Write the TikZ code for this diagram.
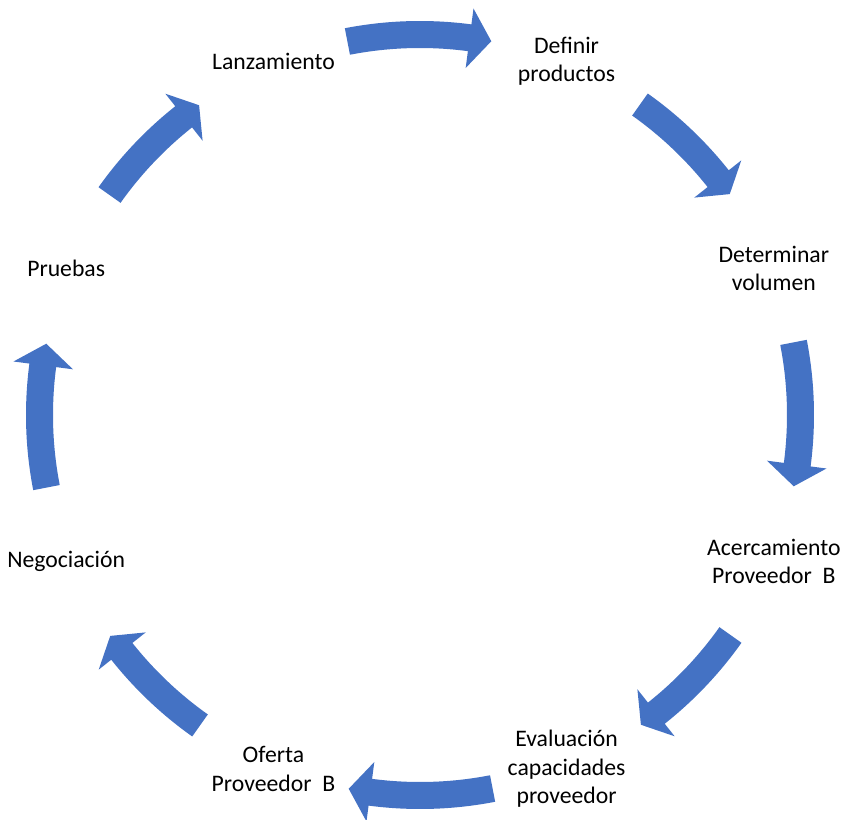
\documentclass[tikz,border=0pt]{standalone}
\usepackage{fontspec}
\setmainfont{Carlito}
\definecolor{arrowblue}{HTML}{4472C4}
\tikzset{
  lbl/.style={align=center, inner sep=0pt, font=\fontsize{23.7}{28.5}\selectfont, text=black},
  cyclearrow/.style={fill=arrowblue, draw=none}
}
% #1 = mid angle, #2 = angular span factor
\newcommand{\cycarrow}[2]{%
  \fill[cyclearrow] ({#1+11*#2}:394pt) arc[start angle={#1+11*#2}, end angle={#1-7.5*#2}, radius=394pt]
    -- ({#1-7.5*#2}:410pt) -- ({#1-10.8*#2}:380.5pt) -- ({#1-7.5*#2}:350pt) -- ({#1-7.5*#2}:367pt)
    arc[start angle={#1-7.5*#2}, end angle={#1+11*#2}, radius=367pt] -- cycle;}
\begin{document}
\begin{tikzpicture}
\useasboundingbox (-420pt,-404pt) rectangle (423pt,415pt);
\coordinate (c) at (0,0);
\node[lbl] (lan) at (112.5:383pt) {Lanzamiento};
\node[lbl] (def) at (67.5:383pt) {Definir\\productos};
\node[lbl] (det) at (22.5:383pt) {Determinar\\volumen};
\node[lbl] (ace) at (-22.5:383pt) {Acercamiento\\Proveedor\ \ B};
\node[lbl] (eva) at (-67.5:383pt) {Evaluación\\capacidades\\proveedor};
\node[lbl] (ofe) at (-112.5:383pt) {Oferta\\Proveedor\ \ B};
\node[lbl] (neg) at (-157.5:383pt) {Negociación};
\node[lbl] (pru) at (157.5:383pt) {Pruebas};
\foreach \m in {90,0,-90,180} {\cycarrow{\m}{1}}
\foreach \m in {45,-45,-135,135} {\cycarrow{\m}{0.88}}
\end{tikzpicture}
\end{document}
